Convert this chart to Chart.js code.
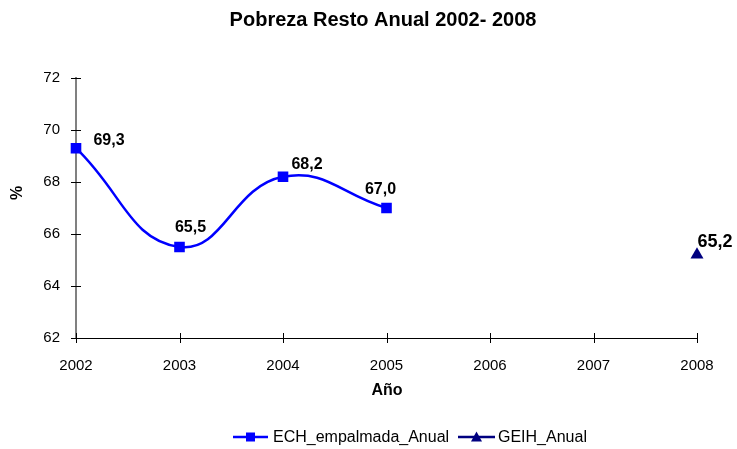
<!DOCTYPE html>
<html>
<head>
<meta charset="utf-8">
<script src="https://cdn.jsdelivr.net/npm/chart.js@4"></script>
<style>
html,body{margin:0;padding:0;background:#fff;}
#c{display:block;}
</style>
</head>
<body>
<canvas id="c" width="737" height="449"></canvas>
<script>
const categories = ['2002','2003','2004','2005','2006','2007','2008'];
const echValues = [69.3, 65.5, 68.2, 67.0, null, null, null];
const geihValues = [null, null, null, null, null, null, 65.2];
const yTicks = [62, 64, 66, 68, 70, 72];
const seriesNames = ['ECH_empalmada_Anual', 'GEIH_Anual'];
const titleText = 'Pobreza Resto Anual 2002- 2008';
const xTitle = 'Año';
const yTitle = '%';

const FONT = '"Liberation Sans", Arial, sans-serif';
const fmt = v => v.toFixed(1).replace('.', ',');

// label placement styles (offsets from point, px)
const labelOffsets = [
  [[33,-8],[11,-19],[24,-12],[-6,-18],null,null,null],
  [null,null,null,null,null,null,[18,-13]]
];
const labelSizes = [16, 18];

const decor = {
  id: 'decor',
  afterDraw(chart) {
    const ctx = chart.ctx;
    const xs = chart.scales.x, ys = chart.scales.y;
    const area = chart.chartArea;
    ctx.save();
    // crossing tick marks
    ctx.lineWidth = 1;
    ctx.strokeStyle = '#000';
    yTicks.forEach(v => {
      const y = Math.round(ys.getPixelForValue(v)) + 0.5;
      ctx.beginPath(); ctx.moveTo(area.left - 5, y); ctx.lineTo(area.left + 5, y); ctx.stroke();
    });
    categories.forEach((c, i) => {
      const x = Math.round(xs.getPixelForValue(i)) + 0.5;
      ctx.beginPath(); ctx.moveTo(x, area.bottom - 5); ctx.lineTo(x, area.bottom + 5); ctx.stroke();
    });
    // data labels
    ctx.fillStyle = '#000';
    ctx.textAlign = 'center';
    ctx.textBaseline = 'middle';
    chart.data.datasets.forEach((ds, di) => {
      const meta = chart.getDatasetMeta(di);
      ctx.font = 'bold ' + labelSizes[di] + 'px ' + FONT;
      ds.data.forEach((v, i) => {
        if (v === null || !labelOffsets[di][i]) return;
        const el = meta.data[i];
        const o = labelOffsets[di][i];
        ctx.fillText(fmt(v), el.x + o[0], el.y + o[1]);
      });
    });
    // title
    ctx.font = 'bold 20px ' + FONT;
    ctx.fillText(titleText, 383, 20);
    // axis titles
    ctx.font = 'bold 16px ' + FONT;
    ctx.fillText(xTitle, 387, 391);
    ctx.save();
    ctx.translate(18, 193);
    ctx.rotate(-Math.PI / 2);
    ctx.fillText(yTitle, 0, 0);
    ctx.restore();
    // legend
    ctx.font = '16px ' + FONT;
    ctx.textAlign = 'left';
    const ly = 437;
    const items = [
      {x1: 233, x2: 268, tx: 273, color: '#0000FF', shape: 'rect', label: seriesNames[0]},
      {x1: 458, x2: 495, tx: 498, color: '#000080', shape: 'triangle', label: seriesNames[1]}
    ];
    items.forEach(it => {
      ctx.strokeStyle = it.color; ctx.lineWidth = 2.5;
      ctx.beginPath(); ctx.moveTo(it.x1, ly); ctx.lineTo(it.x2, ly); ctx.stroke();
      ctx.fillStyle = it.color;
      const cx = (it.x1 + it.x2) / 2;
      if (it.shape === 'rect') {
        ctx.fillRect(cx - 4.5, ly - 4.5, 9, 9);
      } else {
        ctx.beginPath(); ctx.moveTo(cx, ly - 5.5); ctx.lineTo(cx + 5.5, ly + 4.5); ctx.lineTo(cx - 5.5, ly + 4.5); ctx.closePath(); ctx.fill();
      }
      ctx.fillStyle = '#000';
      ctx.fillText(it.label, it.tx, ly + 1);
    });
    ctx.restore();
  }
};

new Chart(document.getElementById('c'), {
  type: 'line',
  data: {
    labels: categories,
    datasets: [
      {
        label: seriesNames[0], data: echValues,
        borderColor: '#0000FF', backgroundColor: '#0000FF',
        borderWidth: 2.5, tension: 0.45,
        pointStyle: 'rect', pointRadius: 7.5, pointHoverRadius: 7.5,
        pointBorderWidth: 0, spanGaps: false
      },
      {
        label: seriesNames[1], data: geihValues,
        borderColor: '#000080', backgroundColor: '#000080',
        borderWidth: 2.5,
        pointStyle: 'triangle', pointRadius: 7.5, pointHoverRadius: 7.5,
        pointBorderWidth: 0
      }
    ]
  },
  options: {
    responsive: false,
    animation: false,
    events: [],
    layout: { padding: { left: 0, right: 40, top: 78, bottom: 0 } },
    plugins: { legend: { display: false }, title: { display: false }, tooltip: { enabled: false } },
    scales: {
      x: {
        offset: false,
        grid: { display: false },
        border: { display: true, color: '#000', width: 1 },
        ticks: { color: '#000', font: { family: FONT, size: 15 }, padding: 11, maxRotation: 0 },
        afterFit(s) { s.height = 111; }
      },
      y: {
        min: 62, max: 72,
        grid: { display: false },
        border: { display: true, color: '#808080', width: 2 },
        ticks: { color: '#000', font: { family: FONT, size: 15 }, padding: 8, stepSize: 2,
                 callback: v => yTicks.includes(v) ? String(v) : '' },
        afterFit(s) { s.width = 76; }
      }
    }
  },
  plugins: [decor]
});
</script>
</body>
</html>
